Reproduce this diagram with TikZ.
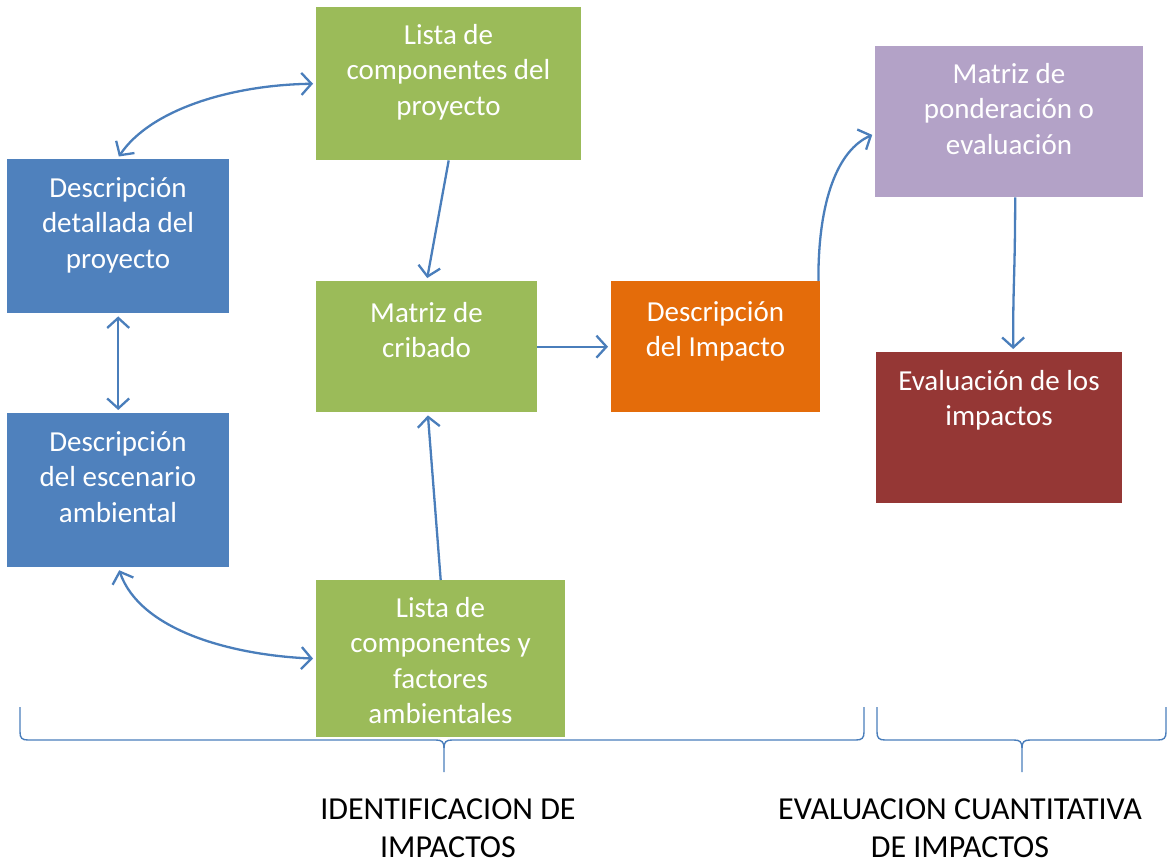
\documentclass[tikz,border=0pt]{standalone}
\usepackage{fontspec}
\setmainfont{Carlito}
\usetikzlibrary{arrows.meta}
\definecolor{cBlue}{HTML}{4F81BD}
\definecolor{cGreen}{HTML}{9BBB59}
\definecolor{cOrange}{HTML}{E46C0A}
\definecolor{cPurple}{HTML}{B3A2C7}
\definecolor{cRed}{HTML}{953735}
\definecolor{cArrow}{HTML}{4A7EBB}
\newcommand\fst{\rule{0pt}{24pt}}
\newcommand\lst{\rule{0pt}{25pt}}
\begin{document}
\begin{tikzpicture}[x=1pt,y=-1pt,
  box/.style={draw=none, inner sep=0pt, anchor=north west},
  txt/.style={font=\fontsize{29}{35.5}\selectfont, text=white, align=center, inner sep=0pt, anchor=north},
  lbl/.style={font=\fontsize{32}{38}\selectfont, text=black, align=center, inner sep=0pt, anchor=north},
  arr/.style={draw=cArrow, line width=2.3pt, -{Straight Barb[length=10pt,width=22pt]}, shorten >=3pt},
  arrb/.style={draw=cArrow, line width=2.3pt, {Straight Barb[length=10pt,width=22pt]}-{Straight Barb[length=10pt,width=22pt]}, shorten >=3pt, shorten <=3pt},
  brace/.style={draw=cArrow, line width=1.4pt}
]
\useasboundingbox (0,0) rectangle (1168,865);

% boxes
\node[box, fill=cGreen, minimum width=265pt, minimum height=153pt] (lcp) at (316,7) {};
\node[box, fill=cBlue, minimum width=222pt, minimum height=154pt] (dd) at (7,159) {};
\node[box, fill=cBlue, minimum width=222pt, minimum height=154pt] (de) at (7,413) {};
\node[box, fill=cGreen, minimum width=221pt, minimum height=131pt] (mc) at (316,281) {};
\node[box, fill=cOrange, minimum width=209pt, minimum height=131pt] (di) at (611,281) {};
\node[box, fill=cPurple, minimum width=268pt, minimum height=151pt] (mp) at (875,46) {};
\node[box, fill=cRed, minimum width=246pt, minimum height=151pt] (ei) at (876,352) {};
\node[box, fill=cGreen, minimum width=249pt, minimum height=157pt] (lcf) at (316,580) {};

% texts
\node[txt] (lcpT) at (448.5,20) {\fst Lista de\\componentes del\\proyecto};
\node[txt] (ddT) at (118,173) {\fst Descripción\\detallada del\\proyecto};
\node[txt] (deT) at (118,427) {\fst Descripción\\del escenario\\ambiental};
\node[txt] (mcT) at (426.5,298) {\fst Matriz de\\cribado};
\node[txt] (diT) at (715.5,297) {\fst Descripción\\del Impacto};
\node[txt] (mpT) at (1009,59) {\fst Matriz de\\ponderación o\\evaluación};
\node[txt] (eiT) at (999,366) {\fst Evaluación de los\\impactos};
\node[txt] (lcfT) at (440.5,593) {\fst Lista de\\componentes y\\factores\\ambientales};

% connectors
\draw[arrb] ([xshift=-1pt]dd.north) .. controls (150,110) and (230,85) .. (lcp.west);
\draw[arr] (lcp.south) -- (mc.north);
\draw[arrb] (dd.south) -- (de.north);
\draw[arrb] (de.south) .. controls (140,630) and (230,655) .. (lcf.west);
\draw[arr] (lcf.north) -- ([xshift=1pt]mc.south);
\draw[arr] (mc.east) -- (di.west);
\draw[arr] ([xshift=-2pt]di.north east) .. controls (818,200) and (838,150) .. ([yshift=-12pt]mp.west);
\draw[arr] ([xshift=6pt]mp.south) .. controls (1015,280) and (1013,280) .. ([xshift=14pt]ei.north);

% braces
\draw[brace] (20,707) -- (20,732) .. controls (20,738) and (22,740) .. (28,740) -- (436,740)
  .. controls (442,740) and (444,742) .. (444,748) -- (444,772);
\draw[brace] (444,748) .. controls (444,742) and (446,740) .. (452,740) -- (856,740)
  .. controls (862,740) and (864,738) .. (864,732) -- (864,707);
\draw[brace] (877,707) -- (877,732) .. controls (877,738) and (879,740) .. (885,740) -- (1014,740)
  .. controls (1020,740) and (1022,742) .. (1022,748) -- (1022,772);
\draw[brace] (1022,748) .. controls (1022,742) and (1024,740) .. (1030,740) -- (1158,740)
  .. controls (1164,740) and (1166,738) .. (1166,732) -- (1166,707);

% labels
\node[lbl] (lab1) at (448,794) {\lst IDENTIFICACION DE\\IMPACTOS};
\node[lbl] (lab2) at (960,794) {\lst EVALUACION CUANTITATIVA\\DE IMPACTOS};
\end{tikzpicture}
\end{document}
